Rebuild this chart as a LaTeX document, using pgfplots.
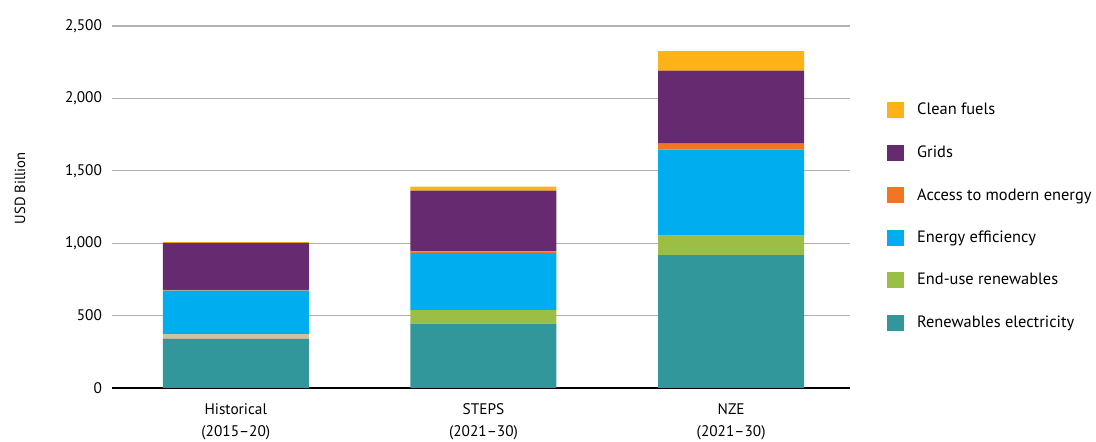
\documentclass[border=0pt]{standalone}
\usepackage{pgfplots}
\pgfplotsset{compat=1.18}
\usepackage{fontspec}
\setmainfont{PT Sans}
\definecolor{cRen}{HTML}{32979A}
\definecolor{cTan}{HTML}{CCC29C}
\definecolor{cEnd}{HTML}{9BBE45}
\definecolor{cEff}{HTML}{00ADEE}
\definecolor{cAcc}{HTML}{F47521}
\definecolor{cGrid}{HTML}{652A70}
\definecolor{cFuel}{HTML}{FDB218}
\pgfplotstableread{
x ren tan enduse eff acc grids fuel
0 340 33 0   299 5  326 5
1 444 0  93  395 12 419 28
2 918 0  134 594 41 504 136
}\data
\begin{document}
\begin{tikzpicture}
\useasboundingbox (-84pt,-40.5pt) rectangle (738pt,291pt);
\begin{axis}[
  at={(0,0)}, anchor=south west,
  scale only axis, width=553.5pt, height=271.5pt,
  ybar stacked, bar width=109.5pt,
  xmin=-0.5, xmax=2.48, ymin=0, ymax=2500,
  xtick=data,
  xticklabels={{Historical\\(2015–20)},{STEPS\\(2021–30)},{NZE\\(2021–30)}},
  xticklabel style={align=center, font=\fontsize{11.5}{17}\selectfont, yshift=-8pt},
  ytick={0,500,1000,1500,2000,2500},
  yticklabel style={font=\fontsize{11.5}{14}\selectfont, xshift=-4pt},
  /pgf/number format/.cd, 1000 sep={,}, assume math mode=true, /pgfplots/.cd,
  ymajorgrids, grid style={gray!60, line width=0.8pt},
  major tick length=0pt,
  axis line style={draw=none},
  ylabel={USD Billion},
  ylabel style={font=\fontsize{11}{13}\selectfont, at={(rel axis cs:0,0.5)}, anchor=center, yshift=69pt, xshift=14pt},
  reverse legend,
  legend cell align=left,
  legend style={draw=none, fill=none, font=\fontsize{12.3}{14}\selectfont,
    at={(1.05,0.795)}, anchor=north west, row sep=17.7pt, column sep=8pt, inner sep=0pt,
    nodes={inner sep=2pt}},
  legend image code/.code={\fill[#1] (0pt,-6pt) rectangle (12.5pt,6pt);},
  clip=false,
]
\addplot[fill=cRen, draw=none] table[x=x,y=ren]{\data};
\addlegendentry{Renewables electricity}
\addplot[fill=cTan, draw=none, forget plot] table[x=x,y=tan]{\data};
\addplot[fill=cEnd, draw=none] table[x=x,y=enduse]{\data};
\addlegendentry{End-use renewables}
\addplot[fill=cEff, draw=none] table[x=x,y=eff]{\data};
\addlegendentry{Energy efficiency}
\addplot[fill=cAcc, draw=none] table[x=x,y=acc]{\data};
\addlegendentry{Access to modern energy}
\addplot[fill=cGrid, draw=none] table[x=x,y=grids]{\data};
\addlegendentry{Grids}
\addplot[fill=cFuel, draw=none] table[x=x,y=fuel]{\data};
\addlegendentry{Clean fuels}
\draw[black, line width=2pt] (rel axis cs:0,0) -- (rel axis cs:1,0);
\end{axis}
\end{tikzpicture}
\end{document}
